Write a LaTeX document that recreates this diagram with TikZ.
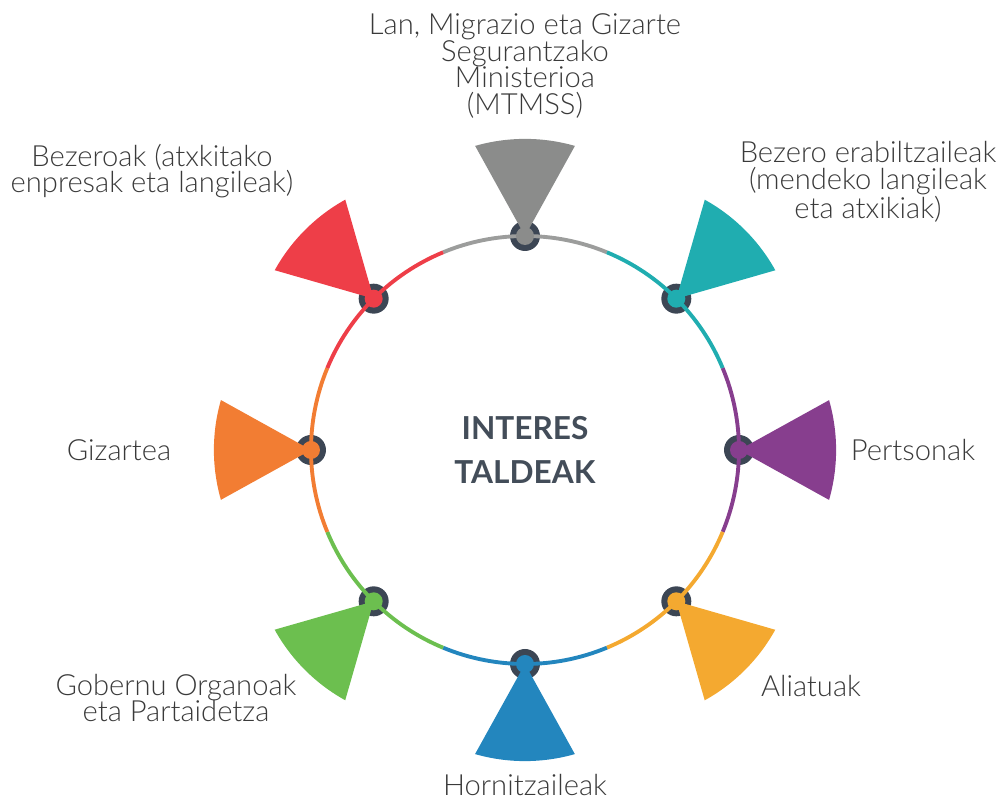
\documentclass[tikz,border=0pt]{standalone}
\usepackage{fontspec}
\setmainfont{Lato}
\IfFontExistsTF{Lato Light}{\newfontfamily\lightfont{Lato Light}}{\newcommand{\lightfont}{}}
\usepackage{tikz}
\usetikzlibrary{calc}
\definecolor{cgray}{HTML}{8B8C8B}
\definecolor{cteal}{HTML}{20ADB0}
\definecolor{cpurple}{HTML}{873E8E}
\definecolor{cyellow}{HTML}{F4A930}
\definecolor{cblue}{HTML}{2386BE}
\definecolor{cgreen}{HTML}{6CBF4F}
\definecolor{corange}{HTML}{F27D33}
\definecolor{cred}{HTML}{EE3E48}
\definecolor{dotdark}{HTML}{3C4654}
\definecolor{txtgray}{HTML}{3A3A3A}
\definecolor{titlegray}{HTML}{434D59}
\tikzset{every picture/.style={x=0.02cm,y=0.02cm},
  lbl/.style={font=\lightfont\fontsize{16.6}{15.2}\selectfont, text=txtgray, align=center, inner sep=0pt},
  title/.style={font=\fontsize{18}{25}\selectfont\bfseries, text=titlegray, align=center},
  dotout/.style={circle, fill=dotdark, minimum size=0.6cm, inner sep=0pt},
  ring/.style={line width=2.2pt}}
% fan shaped marker pointing outwards from the ring
\newcommand{\fan}[2]{\fill[#1] (#2:214) -- ++(#2-29:103)
  arc[start angle=#2-16, end angle=#2+16, radius=181] -- cycle;}
\newcommand{\seg}[2]{\draw[ring, #1] (#2-22.5:214)
  arc[start angle=#2-22.5, end angle=#2+22.5, radius=214];}

\begin{document}
\begin{tikzpicture}
  \useasboundingbox (-525,-350) rectangle (480,450);
  \node[title] (center) at (0,0) {INTERES\\TALDEAK};
  \node[dotout] (ministry) at (90:214) {};
  \node[dotout] (users) at (45:214) {};
  \node[dotout] (persons) at (0:214) {};
  \node[dotout] (allies) at (-45:214) {};
  \node[dotout] (suppliers) at (-90:214) {};
  \node[dotout] (govern) at (-135:214) {};
  \node[dotout] (society) at (180:214) {};
  \node[dotout] (clients) at (135:214) {};
  \seg{cgray!85}{90}
  \seg{cteal}{45}
  \seg{cpurple}{0}
  \seg{cyellow}{-45}
  \seg{cblue}{-90}
  \seg{cgreen}{-135}
  \seg{corange}{180}
  \seg{cred}{135}
  \fan{cgray}{90}
  \fan{cteal}{45}
  \fan{cpurple}{0}
  \fan{cyellow}{-45}
  \fan{cblue}{-90}
  \fan{cgreen}{-135}
  \fan{corange}{180}
  \fan{cred}{135}
  \fill[cgray] (ministry) circle (9);
  \fill[cteal] (users) circle (9);
  \fill[cpurple] (persons) circle (9);
  \fill[cyellow] (allies) circle (9);
  \fill[cblue] (suppliers) circle (9);
  \fill[cgreen] (govern) circle (9);
  \fill[corange] (society) circle (9);
  \fill[cred] (clients) circle (9);
  \node[lbl] (l-ministry) at (0,384) {Lan, Migrazio eta Gizarte\\Segurantzako\\Ministerioa\\(MTMSS)};
  \node[lbl] (l-users) at (343,268) {Bezero erabiltzaileak\\(mendeko langileak\\eta atxikiak)};
  \node[lbl] (l-persons) at (388,0) {Pertsonak};
  \node[lbl] (l-allies) at (286,-236) {Aliatuak};
  \node[lbl] (l-suppliers) at (0,-335) {Hornitzaileak};
  \node[lbl] (l-govern) at (-349,-248) {Gobernu Organoak\\eta Partaidetza};
  \node[lbl] (l-society) at (-406,0) {Gizartea};
  \node[lbl] (l-clients) at (-373,279) {Bezeroak (atxkitako\\enpresak eta langileak)};
\end{tikzpicture}
\end{document}
